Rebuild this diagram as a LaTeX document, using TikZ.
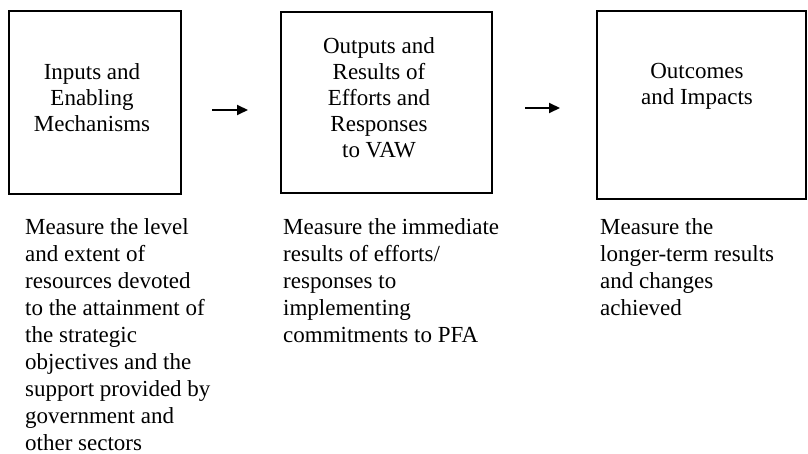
\documentclass[tikz,border=0pt]{standalone}
\usepackage{fontspec}
\setmainfont{Liberation Serif}
\usetikzlibrary{arrows.meta}
\begin{document}
\begin{tikzpicture}[x=1pt,y=-1pt,
  box/.style={draw, line width=2.8pt, inner sep=0pt},
  btext/.style={align=center, inner sep=0pt, font=\fontsize{23}{26}\selectfont},
  desc/.style={align=left, anchor=north west, inner sep=0pt, font=\fontsize{23}{27}\selectfont},
  flow/.style={line width=2pt, -{Triangle[length=11pt,width=10pt]}}]
\useasboundingbox (0,0) rectangle (808,454);
\node[box, minimum width=172pt, minimum height=183pt] (b1) at (95,102.5) {};
\node[box, minimum width=211pt, minimum height=181pt] (b2) at (386.5,102.5) {};
\node[box, minimum width=209pt, minimum height=188pt] (b3) at (701.5,105) {};
\node[btext] (t1) at (92,98) {Inputs and\\Enabling\\Mechanisms};
\node[btext] (t2) at (379,98) {Outputs and\\Results of\\Efforts and\\Responses\\to VAW};
\node[btext] (t3) at (697,86) {Outcomes\\and Impacts};
\coordinate (a1s) at (212,110);
\coordinate (a1e) at (248,110);
\coordinate (a2s) at (525,108);
\coordinate (a2e) at (560,108);
\draw[flow] (a1s) -- (a1e);
\draw[flow] (a2s) -- (a2e);
\node[desc] (d1) at (25,218) {Measure the level\\and extent of\\resources devoted\\to the attainment of\\the strategic\\objectives and the\\support provided by\\government and\\other sectors};
\node[desc] (d2) at (283,218) {Measure the immediate\\results of efforts/\\responses to\\implementing\\commitments to PFA};
\node[desc] (d3) at (600,218) {Measure the\\longer-term results\\and changes\\achieved};
\end{tikzpicture}
\end{document}
